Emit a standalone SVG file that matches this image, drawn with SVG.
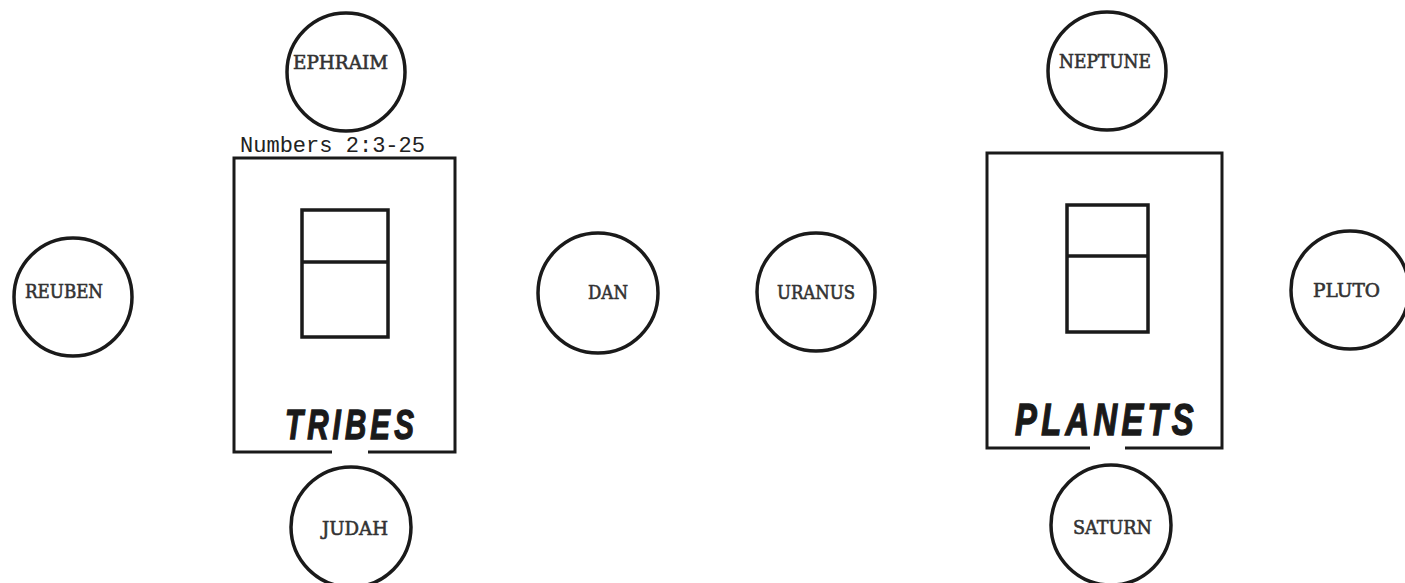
<svg xmlns="http://www.w3.org/2000/svg" width="1405" height="583" viewBox="0 0 1405 583">
<style>
.c{fill:none;stroke:#1a1a1a;stroke-width:3.5}
.b{fill:none;stroke:#1a1a1a;stroke-width:3}
.i{fill:none;stroke:#1a1a1a;stroke-width:3.5}
.l{font-family:"DejaVu Serif","Liberation Serif",serif;font-size:18px;fill:#333;stroke:#333;stroke-width:0.6}
.n{font-family:"Liberation Mono",monospace;font-size:22px;fill:#222}
.t{font-family:"Liberation Sans",Arial,sans-serif;font-weight:bold;font-style:italic;fill:#1a1a1a;stroke:#1a1a1a;stroke-width:1.4;letter-spacing:6px}
</style>
<rect width="1405" height="583" fill="#fff"/>
<g id="tribes-box">
<path class="b" d="M332,452 H234 V158 H455 V452 H368"/>
<rect class="i" x="302" y="210" width="86" height="127"/>
<line class="i" x1="302" y1="262" x2="388" y2="262"/>
<text class="n" x="240" y="152" textLength="185" lengthAdjust="spacingAndGlyphs">Numbers 2:3-25</text>
<text class="t" x="285" y="439" font-size="43" textLength="133" lengthAdjust="spacingAndGlyphs">TRIBES</text>
</g>
<g id="planets-box">
<path class="b" d="M1090,448 H987 V153 H1222 V448 H1125"/>
<rect class="i" x="1067" y="205" width="81" height="127"/>
<line class="i" x1="1067" y1="256" x2="1148" y2="256"/>
<text class="t" x="1015" y="435" font-size="45" textLength="183" lengthAdjust="spacingAndGlyphs">PLANETS</text>
</g>
<g id="ephraim"><circle class="c" cx="346" cy="72" r="59"/><text class="l" x="293" y="69" textLength="95" lengthAdjust="spacingAndGlyphs">EPHRAIM</text></g>
<g id="judah"><circle class="c" cx="351" cy="527" r="60"/><text class="l" x="322" y="535" textLength="66" lengthAdjust="spacingAndGlyphs">JUDAH</text></g>
<g id="reuben"><circle class="c" cx="73" cy="297" r="59"/><text class="l" x="25" y="298" textLength="78" lengthAdjust="spacingAndGlyphs">REUBEN</text></g>
<g id="dan"><circle class="c" cx="598" cy="293" r="60"/><text class="l" x="588" y="299" textLength="40" lengthAdjust="spacingAndGlyphs">DAN</text></g>
<g id="uranus"><circle class="c" cx="816" cy="292" r="59"/><text class="l" x="777" y="299" textLength="78" lengthAdjust="spacingAndGlyphs">URANUS</text></g>
<g id="neptune"><circle class="c" cx="1107" cy="71" r="59"/><text class="l" x="1059" y="68" textLength="92" lengthAdjust="spacingAndGlyphs">NEPTUNE</text></g>
<g id="saturn"><circle class="c" cx="1111" cy="525" r="60"/><text class="l" x="1073" y="534" textLength="79" lengthAdjust="spacingAndGlyphs">SATURN</text></g>
<g id="pluto"><circle class="c" cx="1350" cy="290" r="59"/><text class="l" x="1313" y="297" textLength="67" lengthAdjust="spacingAndGlyphs">PLUTO</text></g>
<g id="connectors"></g>
</svg>
